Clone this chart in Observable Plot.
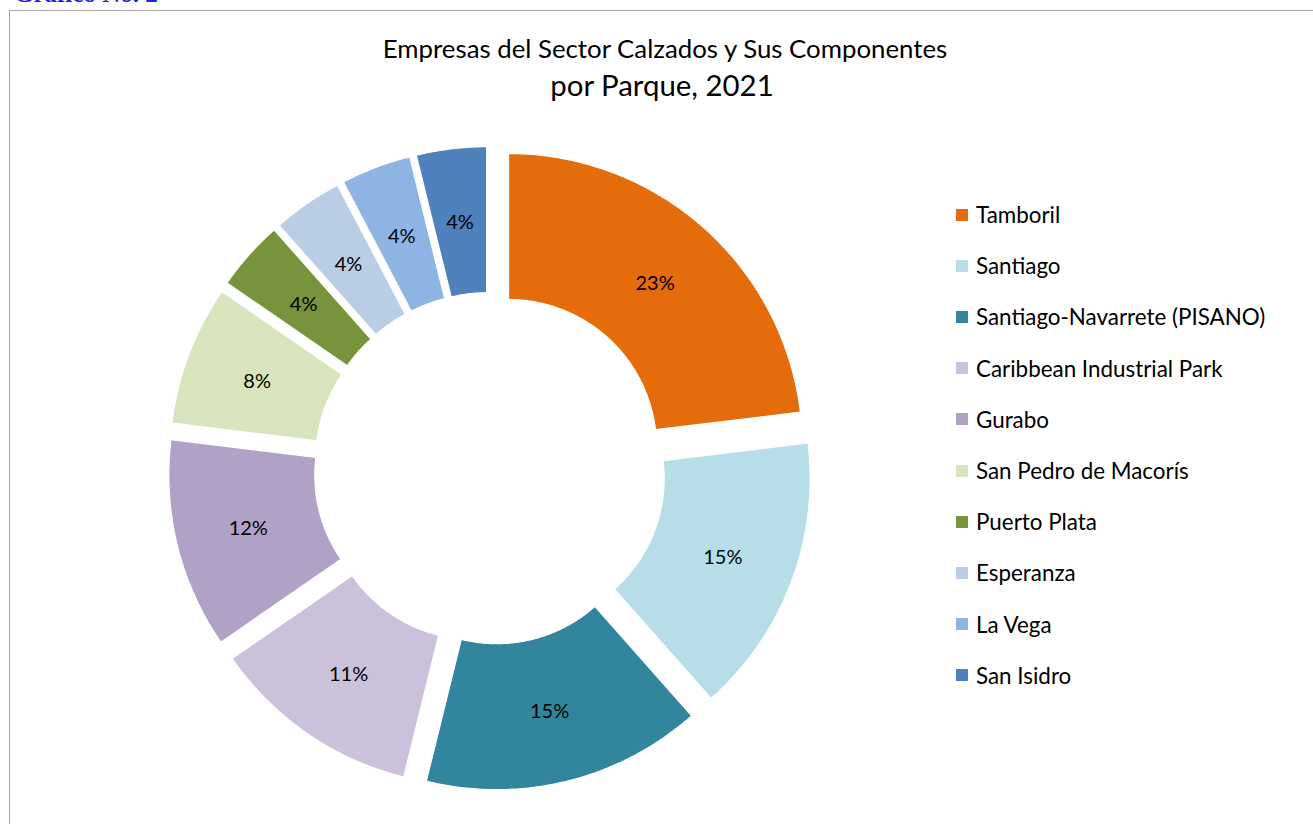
<!DOCTYPE html>
<html><head><meta charset="utf-8">
<script src="https://cdn.jsdelivr.net/npm/d3@7"></script>
<script src="https://cdn.jsdelivr.net/npm/@observablehq/plot@0.6"></script>
<style>
html,body{margin:0;padding:0;background:#fff}
body{width:1313px;height:824px;overflow:hidden;position:relative;font-family:Lato,"Open Sans",sans-serif;color:#000}
#frame{position:absolute;left:9px;top:10px;width:1400px;height:900px;border:1px solid #a6a6a6;box-sizing:border-box}
#fig{position:absolute;left:14px;top:-19px;font:bold 25px/25px "Liberation Serif",serif;color:#1f1fe6;white-space:nowrap}
#t1{position:absolute;left:265px;width:800px;top:33px;text-align:center;font-size:25.8px;line-height:30px}
#t2{position:absolute;left:262px;width:800px;top:68px;text-align:center;font-size:29.4px;line-height:34px}
#chart{position:absolute;left:0;top:0}
#legend{position:absolute;left:956px;top:189px;display:flex;flex-direction:column}
.row{display:flex;align-items:center;height:51.2px;font-size:22.4px;white-space:nowrap}
.sw{width:12px;height:12px;margin-right:8px;flex:none}
</style>
</head><body>
<div id="frame"></div>
<div id="fig">Gráfico No. 2</div>
<div id="t1">Empresas del Sector Calzados y Sus Componentes</div>
<div id="t2">por Parque, 2021</div>
<div id="chart"></div>
<div id="legend"></div>
<script>
const parques = ["Tamboril","Santiago","Santiago-Navarrete (PISANO)","Caribbean Industrial Park","Gurabo","San Pedro de Macorís","Puerto Plata","Esperanza","La Vega","San Isidro"];
const empresas = [6,4,4,3,3,2,1,1,1,1];
// Etiquetas de porcentaje tal como aparecen en la gráfica
const etiquetas = ["23%","15%","15%","11%","12%","8%","4%","4%","4%","4%"];
const colores = ["#E46C0A","#B7DEE8","#31859C","#CCC1DA","#B2A1C7","#D7E4BD","#77933C","#B9CDE5","#8EB4E3","#4F81BD"];

const W = 1313, H = 824;
const cx = 489.5, cy = 468, R = 294, r = 148, explode = 28;

const arcs = d3.pie().sort(null).value(d => d)(empresas);
const poly = [];
const labels = [];
arcs.forEach((a, i) => {
  const mid = (a.startAngle + a.endAngle) / 2;
  const ox = explode * Math.sin(mid), oy = -explode * Math.cos(mid);
  const n = Math.max(8, Math.ceil((a.endAngle - a.startAngle) / 0.01));
  for (let k = 0; k <= n; k++) {
    const t = a.startAngle + (a.endAngle - a.startAngle) * k / n;
    poly.push({name: parques[i], x: cx + ox + R * Math.sin(t), y: cy + oy - R * Math.cos(t)});
  }
  for (let k = n; k >= 0; k--) {
    const t = a.startAngle + (a.endAngle - a.startAngle) * k / n;
    poly.push({name: parques[i], x: cx + ox + r * Math.sin(t), y: cy + oy - r * Math.cos(t)});
  }
  const lr = (R + r) / 2;
  labels.push({name: parques[i], text: etiquetas[i], x: cx + ox + lr * Math.sin(mid), y: cy + oy - lr * Math.cos(mid)});
});

const plot = Plot.plot({
  width: W, height: H,
  margin: 0,
  x: {domain: [0, W], range: [0, W], axis: null},
  y: {domain: [0, H], range: [0, H], axis: null},
  color: {type: "ordinal", domain: parques, range: colores},
  style: {fontFamily: "Lato, 'Open Sans', sans-serif", background: "transparent", overflow: "visible"},
  marks: [
    Plot.line(poly, {x: "x", y: "y", z: "name", fill: "name", stroke: "white", strokeWidth: 1.2, curve: "linear-closed"}),
    Plot.text(labels, {x: "x", y: "y", text: "text", fill: "black", fontSize: 20, dy: 1})
  ]
});
document.getElementById("chart").appendChild(plot);

const color = plot.scale("color");
const leg = document.getElementById("legend");
parques.forEach((p, i) => {
  const row = document.createElement("div");
  row.className = "row";
  const sw = document.createElement("span");
  sw.className = "sw";
  sw.style.background = color.range[i];
  const tx = document.createElement("span");
  tx.textContent = p;
  row.appendChild(sw); row.appendChild(tx);
  leg.appendChild(row);
});
</script>
</body></html>
